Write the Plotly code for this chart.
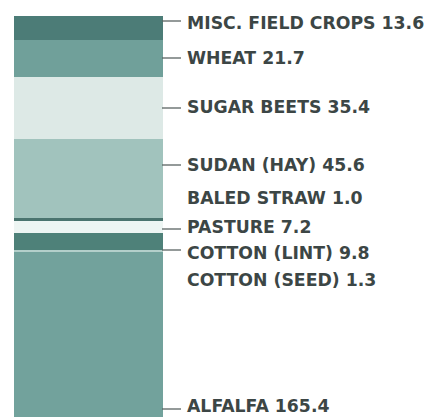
import plotly.graph_objects as go

# Data (top to bottom as shown)
crops = ["MISC. FIELD CROPS", "WHEAT", "SUGAR BEETS", "SUDAN (HAY)", "BALED STRAW",
         "PASTURE", "COTTON (LINT)", "COTTON (SEED)", "ALFALFA"]
values = [13.6, 21.7, 35.4, 45.6, 1.0, 7.2, 9.8, 1.3, 165.4]

colors = ["#4c7c77", "#70a09a", "#dde9e6", "#a1c3bd", "#4a746f",
          "#edf5f3", "#4e8179", "#b3cfca", "#72a29c"]

W, H = 439, 417
OFF = 8  # page body margin offset
bar_top_px = 16.0 - OFF
alf_top_px = 252.0 - OFF
total = sum(values)
alf = values[-1]
scale = (alf_top_px - bar_top_px) / (total - alf)  # px per unit
ymax = total + bar_top_px / scale
ymin = ymax - H / scale

fig = go.Figure()
for name, v, c in reversed(list(zip(crops, values, colors))):
    fig.add_trace(go.Bar(x=["crops"], y=[v], name=name, marker=dict(color=c, line=dict(width=0)),
                         width=1.0, showlegend=False, hoverinfo="name+y"))

label_px = [23, 58, 107, 165, 198, 227, 253, 280, 406]
leader_px = [21, 58, 108, 165, None, 229, 250, None, 409]

annotations = []
shapes = []
for name, v, ty, ly in zip(crops, values, label_px, leader_px):
    annotations.append(dict(
        x=(185 - OFF) / W, y=1 - (ty - OFF) / H, xref="paper", yref="paper",
        text=f"{name} {v:.1f}", showarrow=False, xanchor="left", yanchor="middle",
        font=dict(family="DejaVu Sans", size=17.3, color="#3c4645", weight="bold")))
    if ly is not None:
        shapes.append(dict(type="line", xref="paper", yref="paper",
                           x0=(162 - OFF) / W, x1=(181 - OFF) / W,
                           y0=1 - (ly - OFF) / H, y1=1 - (ly - OFF) / H,
                           line=dict(color="#5a6362", width=1.3)))

fig.update_layout(
    barmode="stack", width=W, height=H,
    margin=dict(l=0, r=0, t=0, b=0),
    paper_bgcolor="white", plot_bgcolor="white",
    xaxis=dict(domain=[(14 - OFF) / W, (163 - OFF) / W], range=[-0.5, 0.5], visible=False, fixedrange=True),
    yaxis=dict(range=[ymin, ymax], visible=False, fixedrange=True),
    annotations=annotations, shapes=shapes, bargap=0,
)

fig.write_html("out.html")
